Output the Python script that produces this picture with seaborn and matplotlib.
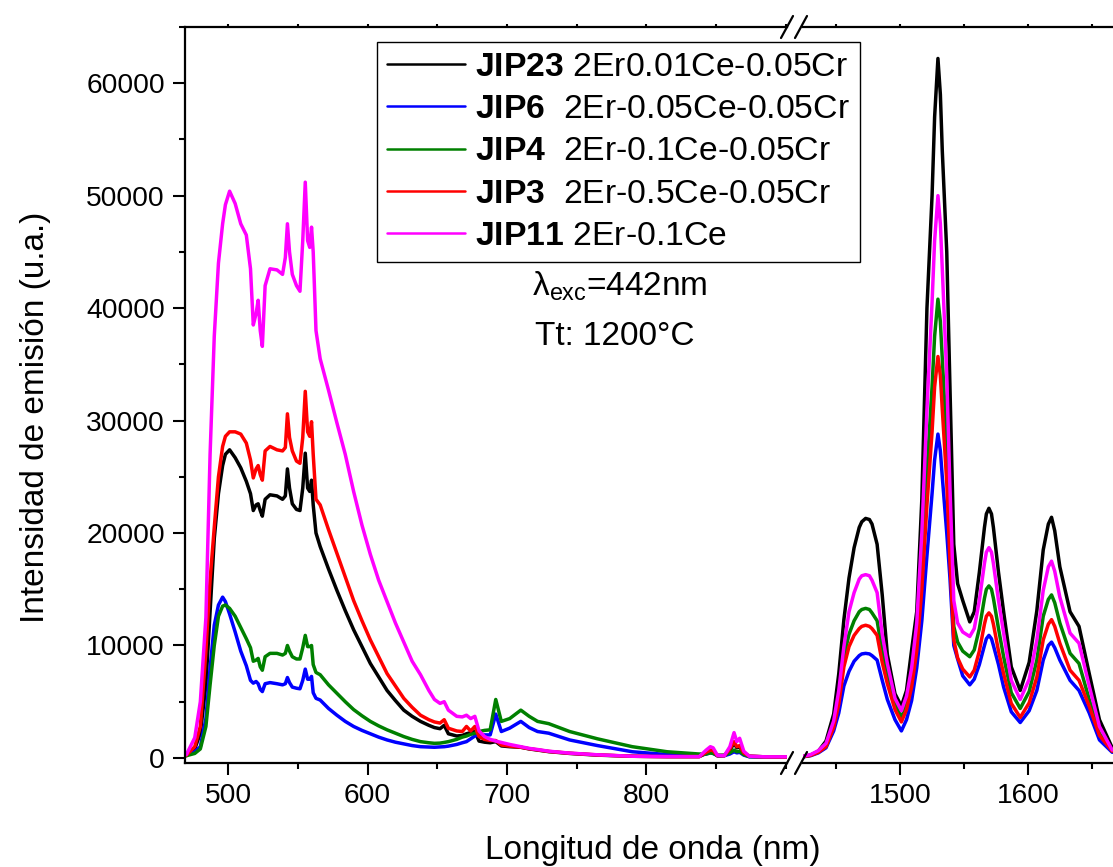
import numpy as np
import pandas as pd
import matplotlib
matplotlib.use("Agg")
import matplotlib.pyplot as plt
import seaborn as sns
from matplotlib.lines import Line2D
from matplotlib.ticker import MultipleLocator

# ---------------- data ----------------
samples = ["JIP23", "JIP6", "JIP4", "JIP3", "JIP11"]
descriptions = ["2Er0.01Ce-0.05Cr", "2Er-0.05Ce-0.05Cr", "2Er-0.1Ce-0.05Cr",
                "2Er-0.5Ce-0.05Cr", "2Er-0.1Ce"]
colors = ["#000000", "#0000FF", "#008000", "#FF0000", "#FF00FF"]

# visible segment (nm)
wl_vis = [470, 476, 480, 484, 487, 490, 493, 496, 498, 501, 505, 509, 513, 516, 518, 520,
          521.5, 523, 524.5, 526.5, 530, 535, 539, 541, 542.5, 544, 546, 549, 551.5, 553.5,
          555.3, 557, 558.5, 559.8, 561, 563, 566, 572, 578, 584, 590, 596, 602, 608, 614,
          620, 626, 632, 638, 644, 648, 652, 655, 658, 664, 668, 671, 674, 677, 680, 684,
          688, 692, 696, 702, 710, 716, 722, 730, 745, 765, 790, 815, 838, 843, 846, 848,
          851, 856, 860, 863, 865, 867, 870, 874, 885, 901]

jip23_vis = [200, 800, 2200, 6500, 13000, 19500, 23500, 26000, 27000, 27400, 26700, 25800,
             24600, 23500, 22000, 22500, 22600, 22000, 21500, 23000, 23400, 23300, 23000,
             23300, 25700, 24000, 22600, 22100, 22000, 24000, 27100, 24000, 23700, 24700,
             22500, 20000, 18800, 16800, 14900, 13100, 11400, 9900, 8400, 7200, 6000, 5100,
             4250, 3700, 3250, 2900, 2700, 2600, 2900, 2150, 1950, 2000, 2150, 2250, 2350,
             1500, 1400, 1350, 1450, 1070, 1000, 950, 800, 700, 560, 400, 250, 150, 120, 120,
             400, 600, 550, 200, 200, 700, 1300, 900, 1000, 400, 150, 100, 80]

jip6_vis = [250, 550, 1000, 3500, 8000, 11800, 13600, 14300, 13900, 12800, 11200, 9500,
            8200, 6900, 6650, 6800, 6600, 6100, 5900, 6600, 6700, 6600, 6500, 6600, 7150,
            6700, 6300, 6200, 6150, 6900, 7900, 7000, 7000, 7250, 5800, 5300, 5150, 4400,
            3800, 3250, 2800, 2450, 2150, 1850, 1600, 1400, 1250, 1100, 1000, 970, 950, 980,
            1000, 1050, 1200, 1350, 1450, 1700, 1950, 2050, 2050, 2050, 3900, 2350, 2650,
            3250, 2700, 2350, 2200, 1600, 1100, 550, 300, 250, 350, 450, 400, 200, 200, 350,
            550, 450, 500, 250, 100, 80, 60]

jip4_vis = [200, 400, 800, 2800, 6500, 10000, 12600, 13500, 13600, 13300, 12600, 11600,
            10600, 9800, 8600, 8700, 8850, 8100, 7800, 9000, 9300, 9300, 9150, 9300, 10000,
            9500, 9000, 8800, 8800, 9800, 10900, 9900, 9900, 10000, 8300, 7600, 7400, 6500,
            5750, 5000, 4300, 3750, 3250, 2850, 2500, 2200, 1900, 1650, 1450, 1350, 1300,
            1320, 1380, 1450, 1650, 1850, 1950, 2100, 2200, 2350, 2450, 2500, 5200, 3250,
            3500, 4250, 3700, 3250, 3050, 2350, 1700, 1000, 550, 350, 350, 450, 400, 250,
            250, 450, 700, 550, 600, 300, 120, 100, 80]

jip3_vis = [250, 1000, 2800, 9500, 15800, 20500, 25000, 27700, 28600, 29000, 29000, 28800,
            28000, 26500, 24900, 25700, 26000, 25200, 24700, 27300, 27700, 27400, 27300,
            27600, 30600, 28500, 27300, 26400, 26200, 28500, 32600, 29000, 28600, 29900,
            27000, 23000, 22500, 20300, 18200, 16100, 14000, 12200, 10500, 9000, 7500, 6400,
            5300, 4500, 3800, 3400, 3200, 3100, 3400, 2640, 2400, 2350, 2800, 2400, 2800,
            1900, 1650, 1550, 1550, 1150, 1050, 950, 820, 720, 580, 420, 270, 150, 120, 120,
            500, 700, 650, 200, 200, 800, 1450, 1000, 1100, 450, 150, 100, 80]

jip11_vis = [300, 1800, 5000, 12500, 27000, 37500, 44000, 47500, 49200, 50400, 49300,
             47500, 46500, 43500, 38500, 39500, 40700, 38000, 36600, 42000, 43500, 43400,
             43000, 44500, 47500, 45000, 43000, 42000, 41500, 46000, 51200, 46000, 45400,
             47200, 45000, 38000, 35500, 32700, 29800, 27000, 23700, 20700, 18100, 15800,
             13900, 12000, 10300, 8600, 7400, 6000, 5200, 4850, 5000, 4250, 3700, 3650, 3800,
             3500, 3700, 2400, 1900, 1650, 1500, 1380, 1200, 1000, 850, 750, 600, 430, 280,
             150, 120, 120, 700, 1000, 900, 250, 200, 1000, 2250, 1450, 1750, 600, 150, 100,
             100]

# near-infrared segment (nm)
wl_nir = [1424, 1430, 1436, 1442, 1448, 1452, 1456, 1460, 1464, 1468, 1470, 1473, 1476,
          1478, 1482, 1486, 1490, 1496, 1501, 1505, 1509, 1513, 1517, 1521, 1525, 1527,
          1529.6, 1531.5, 1533, 1536.5, 1539, 1542, 1545, 1549, 1554.5, 1558, 1562, 1566,
          1567.5, 1569.5, 1571.5, 1573, 1577, 1581, 1587, 1594, 1601, 1607, 1612, 1616,
          1618.5, 1621, 1625, 1633, 1640, 1648, 1656, 1666]

jip23_nir = [100, 250, 600, 1500, 3900, 7500, 12300, 16000, 18700, 20500, 21000, 21300,
             21200, 20800, 19000, 14500, 9200, 5700, 4600, 6000, 9600, 13000, 23000, 40000,
             50000, 57000, 62200, 59000, 54000, 45000, 33000, 19000, 15500, 14000, 12100,
             13000, 16500, 20500, 21700, 22200, 21700, 20500, 16500, 13000, 8100, 6000, 8500,
             13100, 18500, 20800, 21400, 20200, 17000, 13000, 11700, 7500, 3400, 900]

jip6_nir = [100, 200, 450, 900, 2400, 4000, 6400, 7700, 8600, 9100, 9250, 9300, 9250, 9100,
            8700, 6900, 5200, 3400, 2400, 3400, 5100, 8000, 12200, 18000, 23500, 26500,
            28800, 27300, 25000, 20000, 16000, 10000, 8800, 7300, 6500, 7000, 8300, 10000,
            10600, 10900, 10600, 10000, 8300, 6300, 4100, 3150, 4200, 6000, 8700, 10000,
            10300, 9800, 8700, 6900, 6000, 4000, 1600, 500]

jip4_nir = [120, 250, 550, 1100, 2900, 5200, 9000, 11000, 12200, 13000, 13200, 13300,
            13200, 12900, 12200, 9500, 7300, 4800, 3600, 4700, 6900, 10500, 17000, 25500,
            33000, 37500, 40800, 38800, 35500, 28000, 20000, 11700, 10300, 9500, 9000, 9600,
            11500, 14200, 15000, 15300, 15000, 14200, 11500, 9000, 5800, 4400, 5900, 8700,
            12600, 14100, 14500, 13800, 12000, 9300, 8400, 5200, 2200, 600]

jip3_nir = [120, 230, 500, 1000, 2700, 4800, 8100, 9900, 10900, 11500, 11700, 11800, 11700,
            11500, 10900, 8500, 6600, 4300, 3200, 4300, 6300, 9500, 15000, 22500, 29000,
            33000, 35700, 34000, 31000, 24500, 17500, 10500, 8900, 7900, 7200, 7800, 9500,
            11900, 12600, 12900, 12600, 11900, 9500, 7500, 4850, 3600, 4900, 7200, 10500,
            11900, 12300, 11700, 10200, 7800, 6900, 4600, 2000, 600]

jip11_nir = [150, 300, 650, 1300, 3300, 6000, 9900, 13000, 14700, 15900, 16200, 16300,
             16200, 15800, 14700, 11000, 8400, 5300, 4200, 5500, 8000, 12000, 20000, 31000,
             40500, 46000, 50000, 47500, 43500, 34000, 24000, 14000, 12000, 11200, 10800,
             11500, 14000, 17300, 18300, 18700, 18300, 17300, 14000, 11100, 6900, 5200, 7000,
             10500, 14900, 17000, 17500, 16600, 14300, 11100, 10200, 6400, 2800, 700]

yticks = [0, 10000, 20000, 30000, 40000, 50000, 60000]
xticks_vis = [500, 600, 700, 800]
xticks_nir = [1500, 1600]

vis_series = [jip23_vis, jip6_vis, jip4_vis, jip3_vis, jip11_vis]
nir_series = [jip23_nir, jip6_nir, jip4_nir, jip3_nir, jip11_nir]

df_vis = pd.concat([pd.DataFrame({"wl": wl_vis, "I": v, "sample": s})
                    for s, v in zip(samples, vis_series)], ignore_index=True)
df_nir = pd.concat([pd.DataFrame({"wl": wl_nir, "I": v, "sample": s})
                    for s, v in zip(samples, nir_series)], ignore_index=True)
palette = dict(zip(samples, colors))

# ---------------- style ----------------
sns.set_style("ticks")
plt.rcParams["font.family"] = ["Liberation Sans", "DejaVu Sans"]
plt.rcParams["mathtext.fontset"] = "custom"
plt.rcParams["mathtext.rm"] = "Liberation Sans"
plt.rcParams["mathtext.bf"] = "Liberation Sans:bold"
plt.rcParams["mathtext.it"] = "Liberation Sans:italic"
for k in ("text.color", "axes.labelcolor", "xtick.color", "ytick.color", "axes.edgecolor"):
    plt.rcParams[k] = "black"

W, H = 1113, 867
fig = plt.figure(figsize=(W / 100, H / 100), dpi=100)

def fx(px):
    return px / W

def fy(py):
    return 1 - py / H

ax_bot, ax_top = 763, 27
ax1 = fig.add_axes([fx(185), fy(ax_bot), fx(787) - fx(185), (ax_bot - ax_top) / H])
ax2 = fig.add_axes([fx(803), fy(ax_bot), 1 - fx(803), (ax_bot - ax_top) / H])

lw = 2.5
for ax, df in ((ax1, df_vis), (ax2, df_nir)):
    sns.lineplot(data=df, x="wl", y="I", hue="sample", hue_order=samples,
                 palette=palette, estimator=None, sort=False, legend=False,
                 linewidth=lw, ax=ax)
    ax.set_ylim(-450, 65000)
    ax.set_xlabel("")
    ax.set_ylabel("")
    ax.set_facecolor("none")
    for sp in ax.spines.values():
        sp.set_linewidth(1.6)
        sp.set_color("black")

ax1.set_xlim(469, 901)
ax2.set_xlim(1424, 1666.6)

ax1.set_xticks(xticks_vis)
ax1.xaxis.set_minor_locator(MultipleLocator(50))
ax1.set_yticks(yticks)
ax1.yaxis.set_minor_locator(MultipleLocator(5000))
ax1.spines["right"].set_visible(False)

ax2.set_xticks(xticks_nir)
ax2.xaxis.set_minor_locator(MultipleLocator(50))
ax2.spines["left"].set_visible(False)
ax2.spines["right"].set_visible(False)
ax2.set_yticks([])
ax2.tick_params(axis="y", which="both", left=False, labelleft=False)

for ax in (ax1, ax2):
    ax.tick_params(axis="both", which="major", direction="out", length=8.5, width=1.5,
                   labelsize=20.3, pad=6, colors="black")
    ax.tick_params(axis="both", which="minor", direction="out", length=4.5, width=1.5,
                   colors="black")
    ax.xaxis.set_tick_params(which="both", top=True, labeltop=False)
    for t in ax.xaxis.get_major_ticks() + ax.xaxis.get_minor_ticks():
        t.tick2line.set_markersize(2)

# broken-axis marks
for yb in (ax_bot, ax_top):
    for xc in (787, 801):
        fig.add_artist(Line2D([fx(xc - 6), fx(xc + 6)], [fy(yb + 11), fy(yb - 11)],
                              transform=fig.transFigure, color="black", lw=1.6))

# axis labels
fig.text(fx(653), fy(850), "Longitud de onda (nm)", ha="center", va="center", fontsize=24)
fig.text(fx(36), fy(417), "Intensidad de emisión (u.a.)", ha="center", va="center",
         rotation=90, fontsize=24)

# annotations
fig.text(fx(620), fy(296), r"$\mathrm{\lambda}_{\mathrm{exc}}$=442nm", ha="center",
         va="baseline", fontsize=24)
fig.text(fx(615), fy(345), "Tt: 1200°C", ha="center", va="baseline", fontsize=24)

# legend
spacer = {"JIP23": " ", "JIP6": "  ", "JIP4": "  ", "JIP3": "  ", "JIP11": " "}
handles = [Line2D([], [], color=c, lw=1.8) for c in colors]
labels = [r"$\mathbf{%s}$" % s + spacer[s] + d for s, d in zip(samples, descriptions)]
leg = fig.legend(handles, labels, loc="upper left", bbox_to_anchor=(fx(377), fy(42)),
                 bbox_transform=fig.transFigure, fontsize=24.3, frameon=True,
                 fancybox=False, framealpha=1, edgecolor="black", borderpad=0.3,
                 handlelength=2.3, handletextpad=0.3, labelspacing=0.33, borderaxespad=0)
leg.get_frame().set_linewidth(1.0)

fig.savefig("out.png", dpi=100)
